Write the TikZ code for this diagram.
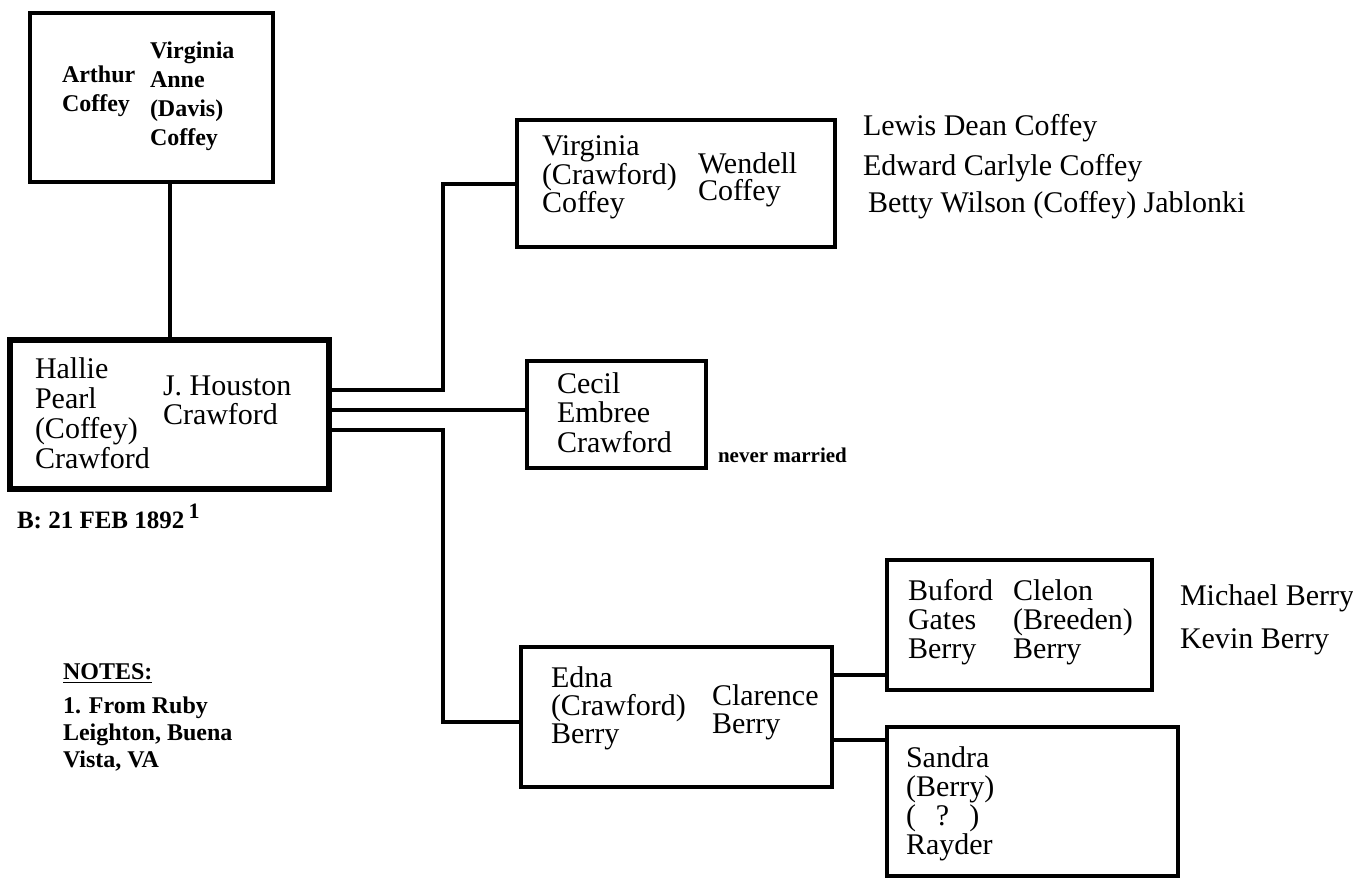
\documentclass[tikz,border=0pt]{standalone}
\usepackage{fontspec}
\setmainfont{Liberation Serif}
\usetikzlibrary{fit}
\tikzset{
  person/.style={draw=black,line width=1.75bp,inner sep=0pt},
  focus/.style={person,line width=2.6bp},
  nametext/.style={anchor=base west,font=\fontsize{15bp}{17bp}\selectfont,text=black},
  eldertext/.style={anchor=base west,font=\fontsize{12bp}{14bp}\selectfont\bfseries,text=black},
  notetext/.style={anchor=base west,font=\fontsize{12bp}{14bp}\selectfont\bfseries,text=black},
  smalltext/.style={anchor=base west,font=\fontsize{10.5bp}{12bp}\selectfont\bfseries,text=black},
  wire/.style={draw=black,line width=2bp}
}
\begin{document}
\begin{tikzpicture}[x=0.5bp,y=-0.5bp,every node/.style={inner sep=0pt,outer sep=0pt}]
\path[use as bounding box] (0,0) rectangle (1353,879);

% grandparents
\node[person,fit={(30,13) (273,182)}] (arthur) {};
\node[eldertext] (arthur-1) at (62,82) {Arthur};
\node[eldertext] (arthur-2) at (62,111) {Coffey};
\node[eldertext] (anne-1) at (150,58) {Virginia};
\node[eldertext] (anne-2) at (150,87) {Anne};
\node[eldertext] (anne-3) at (150,116) {(Davis)};
\node[eldertext] (anne-4) at (150,145) {Coffey};

% Hallie and J. Houston
\node[focus,fit={(10,340) (329,489)}] (hallie) {};
\node[nametext] (hallie-1) at (35,378) {Hallie};
\node[nametext] (hallie-2) at (35,408) {Pearl};
\node[nametext] (hallie-3) at (35,438) {(Coffey)};
\node[nametext] (hallie-4) at (35,468) {Crawford};
\node[nametext] (houston-1) at (163,395) {J. Houston};
\node[nametext] (houston-2) at (163,424) {Crawford};
\node[notetext,font=\fontsize{12.5bp}{14bp}\selectfont\bfseries] (birth) at (17,528)
  {B: 21 FEB 1892\,\raisebox{5bp}{\fontsize{11bp}{12bp}\selectfont 1}};

% notes
\node[notetext] (notes) at (63,679) {\underline{NOTES:}};
\node[notetext] (notes-1) at (63,713) {1. From Ruby};
\node[notetext] (notes-2) at (63,740) {Leighton, Buena};
\node[notetext] (notes-3) at (63,767) {Vista, VA};

% children
\node[person,fit={(517,120) (835,247)}] (virg) {};
\node[nametext] (virg-1) at (542,155) {Virginia};
\node[nametext] (virg-2) at (542,184) {(Crawford)};
\node[nametext] (virg-3) at (542,212) {Coffey};
\node[nametext] (wendell-1) at (698,173) {Wendell};
\node[nametext] (wendell-2) at (698,200) {Coffey};
\node[nametext] (virg-kid-1) at (863,135) {Lewis Dean Coffey};
\node[nametext] (virg-kid-2) at (863,175) {Edward Carlyle Coffey};
\node[nametext] (virg-kid-3) at (868,212) {Betty Wilson (Coffey) Jablonki};

\node[person,fit={(527,361) (706,468)}] (cecil) {};
\node[nametext] (cecil-1) at (557,393) {Cecil};
\node[nametext] (cecil-2) at (557,422) {Embree};
\node[nametext] (cecil-3) at (557,452) {Crawford};
\node[smalltext] (cecil-note) at (718,462) {never married};

\node[person,fit={(521,647) (832,787)}] (edna) {};
\node[nametext] (edna-1) at (551,687) {Edna};
\node[nametext] (edna-2) at (551,715) {(Crawford)};
\node[nametext] (edna-3) at (551,743) {Berry};
\node[nametext] (clarence-1) at (712,705) {Clarence};
\node[nametext] (clarence-2) at (712,733) {Berry};

% grandchildren
\node[person,fit={(887,560) (1152,690)}] (buford) {};
\node[nametext] (buford-1) at (908,600) {Buford};
\node[nametext] (buford-2) at (908,629) {Gates};
\node[nametext] (buford-3) at (908,658) {Berry};
\node[nametext] (clelon-1) at (1013,600) {Clelon};
\node[nametext] (clelon-2) at (1013,629) {(Breeden)};
\node[nametext] (clelon-3) at (1013,658) {Berry};
\node[nametext] (buford-kid-1) at (1180,605) {Michael Berry};
\node[nametext] (buford-kid-2) at (1180,648) {Kevin Berry};

\node[person,fit={(887,727) (1178,876)}] (sandra) {};
\node[nametext] (sandra-1) at (906,767) {Sandra};
\node[nametext] (sandra-2) at (906,796) {(Berry)};
\node[nametext] (sandra-3) at (906,825) {(\enspace\,?\enspace\,)};
\node[nametext] (sandra-4) at (906,854) {Rayder};

% connectors
\coordinate (trunk) at (443,0);
\coordinate (lvl1) at (0,390);
\coordinate (lvl2) at (0,410);
\coordinate (lvl3) at (0,430);
\coordinate (lvl4) at (0,675);
\coordinate (lvl5) at (0,722);
\coordinate (lvl6) at (0,740);
\draw[wire] (hallie.north) -- (hallie.north |- arthur.south);
\draw[wire] (hallie.east |- lvl1) -| (trunk |- virg.west) -- (virg.west);
\draw[wire] (hallie.east |- lvl2) -- (cecil.west |- lvl2);
\draw[wire] (hallie.east |- lvl3) -| (trunk |- lvl5) -- (edna.west |- lvl5);
\draw[wire] (edna.east |- lvl4) -- (buford.west |- lvl4);
\draw[wire] (edna.east |- lvl6) -- (sandra.west |- lvl6);
\end{tikzpicture}
\end{document}
